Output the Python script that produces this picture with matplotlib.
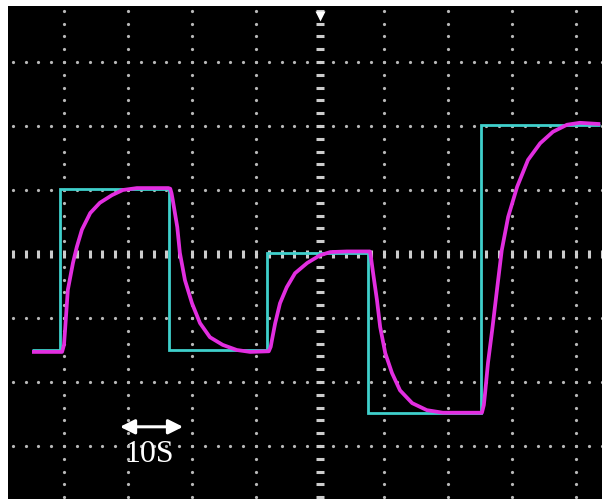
import numpy as np
import matplotlib
matplotlib.use("Agg")
import matplotlib.pyplot as plt

# === DATA (time in s, level in divisions) ===
# setpoint (cyan step signal): breakpoints and levels
step_times = [5.0, 9.4, 26.4, 41.7, 57.5, 75.2, 93.8]
step_levels = [-1.5, 1.02, -1.5, 0.02, -2.48, 2.02]

# response (magenta)
resp_t = [5.0, 9.7, 10.0, 10.2, 10.6, 11.4, 12.0, 12.8, 14.1, 15.6, 17.5, 19.2, 21.4,
          26.3, 26.6, 26.8, 27.0, 27.7, 28.1, 28.9, 30.0, 31.25, 32.8, 34.8, 37.0, 39.1,
          42.0, 42.3, 42.5, 43.0, 43.75, 44.8, 46.1, 48.0, 50.0, 51.6, 54.2,
          57.8, 58.0, 58.3, 58.9, 59.4, 60.2, 61.25, 62.5, 64.4, 66.7, 69.2,
          75.3, 75.6, 75.8, 76.25, 76.9, 77.7, 78.4, 79.4, 80.8, 82.5, 84.4, 86.4, 88.6, 90.6, 93.8]
resp_v = [-1.53, -1.53, -1.42, -1.14, -0.56, -0.14, 0.11, 0.38, 0.64, 0.80, 0.92, 1.00, 1.03,
          1.03, 1.02, 0.95, 0.84, 0.42, 0.02, -0.41, -0.77, -1.08, -1.30, -1.42, -1.50, -1.53,
          -1.52, -1.45, -1.34, -1.08, -0.77, -0.52, -0.30, -0.14, -0.02, 0.03, 0.04,
          0.04, -0.08, -0.30, -0.72, -1.14, -1.55, -1.86, -2.13, -2.33, -2.44, -2.48,
          -2.48, -2.36, -2.17, -1.70, -1.19, -0.52, 0.06, 0.58, 1.05, 1.47, 1.73, 1.91, 2.02, 2.05, 2.03]

DIV_T = 10.0    # seconds per division
SCALE_LABEL = "10S"

# === FIGURE ===
fig = plt.figure(figsize=(6.02, 4.99), dpi=100, facecolor="white")
ax = fig.add_axes([8 / 602, 0, 594 / 602, 493 / 499])
ax.set_facecolor("black")
ax.set_xlim(8 / 6.4, 602 / 6.4)
ax.set_ylim(-245 / 64, 248 / 64)
ax.set_xticks([])
ax.set_yticks([])
for sp in ax.spines.values():
    sp.set_visible(False)

# === GRATICULE ===
dot_col = "#b8b8b8"
v_fine = np.arange(-4.0, 4.01, 0.2)
t_fine = np.arange(0, 100.1, DIV_T / 5)
for t in np.arange(DIV_T, 100, DIV_T):
    if t == 50:
        continue
    ax.plot(np.full_like(v_fine, t), v_fine, ls="none", marker="o", ms=2.3,
            mec="none", mfc=dot_col, zorder=1)
for v in range(-3, 4):
    if v == 0:
        continue
    ax.plot(t_fine, np.full_like(t_fine, v), ls="none", marker="o", ms=2.3,
            mec="none", mfc=dot_col, zorder=1)
# centre lines with tick dashes
ax.plot(t_fine, np.zeros_like(t_fine), ls="none", marker="|", ms=6.0, mew=2.2,
        color="#cccccc", zorder=1)
ax.plot(np.full_like(v_fine, 50), v_fine, ls="none", marker="_", ms=6.0, mew=2.2,
        color="#cccccc", zorder=1)
# trigger marker at top
ax.plot([50], [3.72], marker="v", ms=7, color="white", mec="none", zorder=2)

# === SIGNALS ===
ax.stairs(step_levels, step_times, baseline=None, color="#3fd0cc", lw=2.0, zorder=3)
ax.plot(resp_t, resp_v, color="#e22ee0", lw=2.7, zorder=4,
        solid_joinstyle="round", solid_capstyle="butt")

# === TIME SCALE ANNOTATION ===
ax.annotate("", xy=(28.6, -2.70), xytext=(18.75, -2.70),
            arrowprops=dict(arrowstyle="<|-|>", color="white", lw=2.2,
                            mutation_scale=22, shrinkA=0, shrinkB=0), zorder=5)
ax.text(23.3, -3.14, SCALE_LABEL, color="white", fontsize=23,
        family="Liberation Serif", ha="center", va="center", zorder=5)

fig.savefig("out.png", dpi=100, facecolor="white")
